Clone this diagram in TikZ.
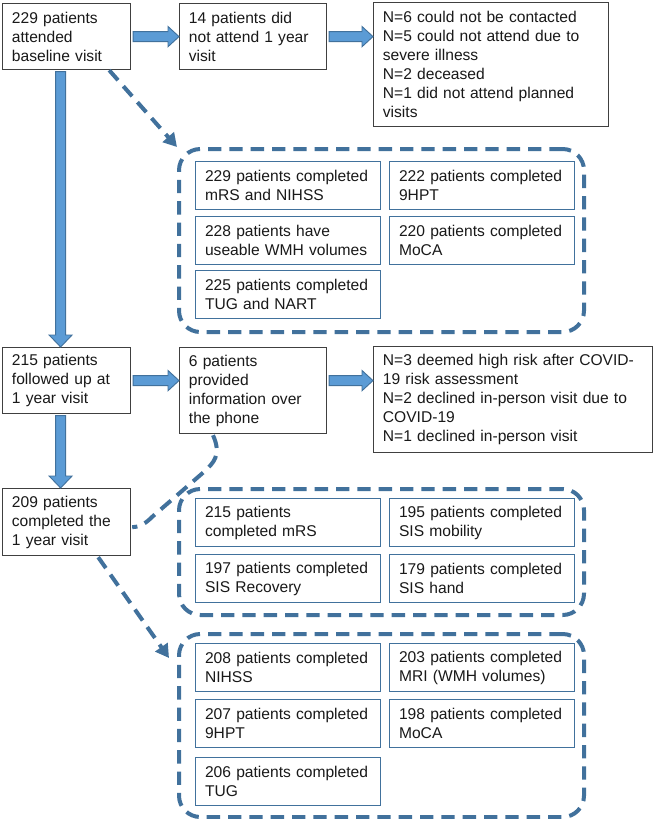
\documentclass[tikz,border=0pt]{standalone}
\usepackage{fontspec}
\setmainfont{Liberation Sans}
\usetikzlibrary{calc,arrows.meta}
\definecolor{dblue}{HTML}{41719C}
\definecolor{lblue}{HTML}{5B9BD5}
\definecolor{bordergray}{HTML}{404040}
\newcommand\harr[2]{%
  \path[blockarrow] let \p1=(#1), \p2=(#2) in
   (\x1+1.5pt,\y1-3.75pt) -- (\x2-8.25pt,\y1-3.75pt) -- (\x2-8.25pt,\y1-7.6pt) --
   (\x2,\y1) -- (\x2-8.25pt,\y1+7.6pt) -- (\x2-8.25pt,\y1+3.75pt) -- (\x1+1.5pt,\y1+3.75pt) -- cycle;}
\newcommand\varr[2]{%
  \path[blockarrow] let \p1=(#1), \p2=(#2) in
   (\x1-3.75pt,\y1-1pt) -- (\x1-3.75pt,\y2+9pt) -- (\x1-8.6pt,\y2+9pt) --
   (\x1,\y2) -- (\x1+8.6pt,\y2+9pt) -- (\x1+3.75pt,\y2+9pt) -- (\x1+3.75pt,\y1-1pt) -- cycle;}
\begin{document}
\begin{tikzpicture}[x=0.75pt,y=-0.75pt,
  every node/.style={font=\fontsize{11.7pt}{14.2pt}\selectfont, text=black!90},
  mainbox/.style={draw=bordergray, line width=0.9pt, fill=white, anchor=north west,
    align=left, inner xsep=7pt, inner ysep=0pt},
  subbox/.style={draw=dblue, line width=1.1pt, fill=white, anchor=north west, align=left,
    inner xsep=7pt, inner ysep=0pt, minimum width=138.75pt, minimum height=36pt, text width=124.75pt},
  groupbox/.style={draw=dblue, line width=3pt, dash pattern=on 10pt off 6pt,
    rounded corners=16pt, anchor=north west, inner sep=0pt, minimum width=303.75pt},
  blockarrow/.style={fill=lblue, draw=dblue, line width=0.7pt},
  dashconn/.style={draw=dblue, line width=3pt, dash pattern=on 10pt off 6pt},
  dasharrow/.style={dashconn, -{Triangle[width=11pt,length=10pt]}}]
\useasboundingbox (0,0) rectangle (653,819);
\fill[white] (0,0) rectangle (653,819);

% group boxes
\node[groupbox, minimum height=137.25pt] (DB1) at (177,147) {};
\node[groupbox, minimum height=94.5pt] (DB2) at (177,487) {};
\node[groupbox, minimum height=137.25pt] (DB3) at (177,632) {};

% main boxes
\node[mainbox, minimum width=96pt, minimum height=49.5pt, text width=82pt] (A) at (2,3)
  {229 patients\\attended\\baseline visit};
\node[mainbox, minimum width=110.25pt, minimum height=49.5pt, text width=96.25pt] (B) at (179,3)
  {14 patients did\\not attend 1 year\\visit};
\node[mainbox, minimum width=176.25pt, minimum height=93pt, text width=162.25pt] (C) at (373,2)
  {N=6 could not be contacted\\N=5 could not attend due to\\severe illness\\N=2 deceased\\N=1 did not attend planned\\visits};
\node[mainbox, minimum width=96pt, minimum height=49.5pt, text width=82pt] (D) at (2,347)
  {215 patients\\followed up at\\1 year visit};
\node[mainbox, minimum width=110.25pt, minimum height=64.5pt, text width=96.25pt] (E) at (179,347)
  {6 patients\\provided\\information over\\the phone};
\node[mainbox, minimum width=209.25pt, minimum height=79.5pt, text width=195.25pt] (F) at (373,346)
  {N=3 deemed high risk after COVID-\\19 risk assessment\\N=2 declined in-person visit due to\\COVID-19\\N=1 declined in-person visit};
\node[mainbox, minimum width=96pt, minimum height=50.25pt, text width=82pt] (G) at (2,488)
  {209 patients\\completed the\\1 year visit};

% inner boxes group 1
\node[subbox] (s11) at (195,161) {229 patients completed\\mRS and NIHSS};
\node[subbox] (s12) at (389,161) {222 patients completed\\9HPT};
\node[subbox] (s13) at (195,216) {228 patients have\\useable WMH volumes};
\node[subbox] (s14) at (389,216) {220 patients completed\\MoCA};
\node[subbox] (s15) at (195,270) {225 patients completed\\TUG and NART};
% inner boxes group 2
\node[subbox] (s21) at (195,498) {215 patients\\completed mRS};
\node[subbox] (s22) at (389,498) {195 patients completed\\SIS mobility};
\node[subbox] (s23) at (195,554) {197 patients completed\\SIS Recovery};
\node[subbox] (s24) at (389,554) {179 patients completed\\SIS hand};
% inner boxes group 3
\node[subbox] (s31) at (195,643) {208 patients completed\\NIHSS};
\node[subbox] (s32) at (389,643) {203 patients completed\\MRI (WMH volumes)};
\node[subbox] (s33) at (195,699) {207 patients completed\\9HPT};
\node[subbox] (s34) at (389,699) {198 patients completed\\MoCA};
\node[subbox] (s35) at (195,757) {206 patients completed\\TUG};

% block arrows
\coordinate (a1) at ($(A.south)+(-6,0)$);
\coordinate (d1) at ($(D.south)+(-6,0)$);
\harr{A.east}{B.west}
\harr{B.east}{B.east -| C.west}
\harr{D.east}{D.east -| E.west}
\harr{D.east -| E.east}{D.east -| F.west}
\varr{a1}{a1 |- D.north}
\varr{d1}{d1 |- G.north}

% dashed connectors
\draw[dasharrow] ($(A.south east)+(-22,0)$) -- (DB1.north west);
\draw[dasharrow] ($(G.south east)+(-33,1)$) -- ($(DB3.north west)+(-8,26)$);
\coordinate (e1) at ($(E.south west)+(34,1)$);
\coordinate (bend1) at (205,471);
\coordinate (bend2) at (152,517);
\coordinate (g1) at ($(G.east)+(1,5)$);
\draw[dashconn] (e1) .. controls +(9,20) and +(8,-8) .. (bend1) -- (bend2)
  .. controls +(-6,6) and +(8,0) .. (g1);
\end{tikzpicture}
\end{document}
